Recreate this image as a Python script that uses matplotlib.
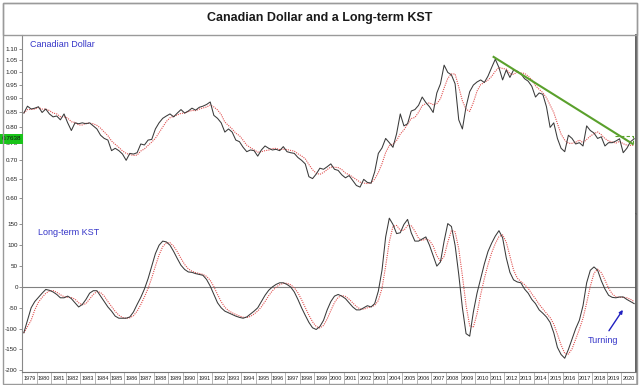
import matplotlib
matplotlib.use('Agg')
import matplotlib.pyplot as plt
from matplotlib.patches import Rectangle
from matplotlib.ticker import FixedLocator, FixedFormatter, NullFormatter, NullLocator
import numpy as np
import pandas as pd

# ---------------- data (quarterly, 1979 Q1 .. 2020 Q4) ----------------
start_year = 1979
cad = [
    0.848, 0.872, 0.862, 0.865,   # 1979
    0.870, 0.850, 0.862, 0.845,   # 1980
    0.835, 0.838, 0.825, 0.845,   # 1981
    0.815, 0.790, 0.815, 0.812,   # 1982
    0.815, 0.812, 0.815, 0.805,   # 1983
    0.795, 0.775, 0.765, 0.760,   # 1984
    0.728, 0.735, 0.728, 0.718,   # 1985
    0.700, 0.720, 0.718, 0.722,   # 1986
    0.748, 0.745, 0.760, 0.762,   # 1987
    0.795, 0.815, 0.830, 0.838,   # 1988
    0.845, 0.835, 0.848, 0.860,   # 1989
    0.848, 0.855, 0.865, 0.858,   # 1990
    0.868, 0.872, 0.878, 0.887,   # 1991
    0.840, 0.830, 0.815, 0.785,   # 1992
    0.795, 0.785, 0.760, 0.755,   # 1993
    0.738, 0.725, 0.730, 0.728,   # 1994
    0.712, 0.730, 0.742, 0.735,   # 1995
    0.730, 0.732, 0.728, 0.740,   # 1996
    0.725, 0.722, 0.720, 0.708,   # 1997
    0.700, 0.690, 0.655, 0.650,   # 1998
    0.662, 0.678, 0.675, 0.682,   # 1999
    0.690, 0.675, 0.672, 0.660,   # 2000
    0.652, 0.658, 0.645, 0.632,   # 2001
    0.628, 0.648, 0.640, 0.638,   # 2002
    0.668, 0.720, 0.736, 0.765,   # 2003
    0.752, 0.738, 0.780, 0.845,   # 2004
    0.805, 0.812, 0.855, 0.860,   # 2005
    0.875, 0.905, 0.885, 0.870,   # 2006
    0.850, 0.920, 0.955, 1.030,   # 2007
    1.000, 0.990, 0.955, 0.825,   # 2008
    0.795, 0.870, 0.925, 0.950,   # 2009
    0.962, 0.970, 0.960, 0.985,   # 2010
    1.020, 1.055, 1.020, 0.970,   # 2011
    1.010, 0.980, 1.010, 1.005,   # 2012
    0.995, 0.975, 0.965, 0.945,   # 2013
    0.905, 0.920, 0.915, 0.870,   # 2014
    0.800, 0.815, 0.765, 0.735,   # 2015
    0.725, 0.775, 0.765, 0.748,   # 2016
    0.752, 0.742, 0.805, 0.790,   # 2017
    0.782, 0.765, 0.770, 0.742,   # 2018
    0.752, 0.752, 0.757, 0.764,   # 2019
    0.722, 0.735, 0.755, 0.764,   # 2020
]
kst = [
    -110, -80, -50, -35,     # 1979
    -25, -15, -6, -8,        # 1980
    -12, -18, -26, -26,      # 1981
    -22, -28, -38, -48,      # 1982
    -42, -30, -15, -9,       # 1983
    -9, -22, -35, -48,       # 1984
    -58, -70, -75, -75,      # 1985
    -75, -72, -60, -42,      # 1986
    -25, -5, 20, 50,         # 1987
    80, 100, 110, 108,       # 1988
    100, 85, 68, 52,         # 1989
    42, 36, 35, 32,          # 1990
    30, 28, 18, 2,           # 1991
    -18, -38, -50, -58,      # 1992
    -62, -66, -70, -73,      # 1993
    -75, -72, -65, -58,      # 1994
    -50, -35, -20, -8,       # 1995
    0, 6, 10, 10,            # 1996
    6, 0, -12, -30,          # 1997
    -50, -68, -85, -98,      # 1998
    -102, -95, -80, -55,     # 1999
    -35, -22, -18, -22,      # 2000
    -28, -38, -48, -55,      # 2001
    -55, -50, -45, -48,      # 2002
    -40, -10, 40, 120,       # 2003
    165, 150, 128, 130,      # 2004
    150, 162, 130, 110,      # 2005
    110, 115, 120, 100,      # 2006
    75, 50, 60, 110,         # 2007
    152, 145, 100, 30,       # 2008
    -50, -112, -118, -60,    # 2009
    -15, 20, 55, 85,         # 2010
    105, 122, 135, 118,      # 2011
    70, 35, 17, 12,          # 2012
    10, -5, -15, -30,        # 2013
    -40, -55, -63, -72,      # 2014
    -85, -110, -145, -162,   # 2015
    -171, -150, -125, -100,  # 2016
    -80, -45, 10, 40,        # 2017
    48, 40, 15, -5,          # 2018
    -20, -25, -26, -24,      # 2019
    -24, -30, -35, -40,      # 2020
]
year_labels = list(range(1979, 2021))
cad_ticks = [1.10, 1.05, 1.00, 0.95, 0.90, 0.85, 0.80, 0.75, 0.70, 0.65, 0.60]
kst_ticks = [150, 100, 50, 0, -50, -100, -150, -200]
last_label = "0.7638"
last_value = 0.7638
trend_t = [2011.26, 2020.78]
trend_v = [1.065, 0.748]
box_t = [2019.55, 2020.80, 2020.80]
box_v = [0.772, 0.772, 0.752]
turn_tail = (2019.15, -105)
turn_head = (2020.1, -55)
turn_text = (2018.75, -128)

t = start_year + (np.arange(len(cad)) + 0.5) / 4.0
cad_ma = pd.Series(cad).rolling(4, min_periods=1).mean().values
kst_ma = pd.Series(kst).rolling(3, min_periods=1).mean().values

# ---------------- figure ----------------
W, H = 640, 385
fig = plt.figure(figsize=(W / 100, H / 100), dpi=100)
plt.rcParams['font.family'] = ['Liberation Sans', 'DejaVu Sans']

def fx(px):
    return px / W

def fy(py):
    return 1 - py / H

# outer border and title bar
fig.add_artist(Rectangle((fx(3), fy(384)), fx(634), 381 / H, transform=fig.transFigure,
                         fill=False, edgecolor='#9a9a9a', lw=1.0))
fig.add_artist(Rectangle((fx(3), fy(35)), fx(634), 32 / H, transform=fig.transFigure,
                         fill=False, edgecolor='#9a9a9a', lw=1.0))
fig.text(0.5, fy(18), "Canadian Dollar and a Long-term KST", ha='center', va='center',
         fontsize=9, fontweight='bold', color='#1a1a1a',
         family=['Liberation Sans Narrow', 'Liberation Sans', 'DejaVu Sans'])

left, right = 22, 636
top1, split, bot2 = 35, 214, 372
ax1 = fig.add_axes([fx(left), fy(split), fx(right - left), (split - top1) / H])
ax2 = fig.add_axes([fx(left), fy(bot2), fx(right - left), (bot2 - split) / H])

xmin, xmax = 1979.0, 2021.0
for ax in (ax1, ax2):
    ax.set_xlim(xmin, xmax)
    ax.set_facecolor('white')
    ax.spines['left'].set_color('#888888')
    ax.spines['left'].set_linewidth(0.8)
    ax.spines['right'].set_color('#555555')
    ax.spines['right'].set_linewidth(1.3)

# --- upper panel ---
ax1.set_yscale('log')
ax1.set_ylim(0.563, 1.164)
ax1.plot(t, cad_ma, color='#e05050', lw=0.8, ls=(0, (1, 1)))
ax1.plot(t, cad, color='#3a3a3a', lw=0.75)
ax1.plot(trend_t, trend_v, color='#5aa02c', lw=1.5)
ax1.plot(box_t, box_v, color='#5aa02c', lw=0.8, ls=(0, (3, 2)))
ax1.yaxis.set_major_locator(FixedLocator(cad_ticks))
ax1.yaxis.set_major_formatter(FixedFormatter(["%.2f" % v for v in cad_ticks]))
ax1.yaxis.set_minor_locator(NullLocator())
ax1.yaxis.set_minor_formatter(NullFormatter())
ax1.tick_params(axis='y', labelsize=4.5, length=2, width=0.5, color='#666666', pad=1,
                labelcolor='#222222')
ax1.set_xticks([])
ax1.spines['bottom'].set_visible(False)
ax1.spines['top'].set_visible(False)
ax1.text(0.013, 0.945, "Canadian Dollar", transform=ax1.transAxes, color='#3535c8',
         fontsize=6.5, va='center', ha='left')
ax1.text(-0.002, last_value, last_label, transform=ax1.get_yaxis_transform(),
         ha='right', va='center', fontsize=4.6, color='#101010', zorder=10, clip_on=False,
         bbox=dict(facecolor='#19c419', edgecolor='none', pad=1.6))

# --- lower panel ---
ax2.set_ylim(-204, 175)
ax2.axhline(0, color='#808080', lw=0.8)
ax2.plot(t, kst_ma, color='#e05050', lw=0.8, ls=(0, (1, 1)))
ax2.plot(t, kst, color='#3a3a3a', lw=0.75)
ax2.yaxis.set_major_locator(FixedLocator(kst_ticks))
ax2.yaxis.set_major_formatter(FixedFormatter([str(v) for v in kst_ticks]))
ax2.tick_params(axis='y', labelsize=4.5, length=2, width=0.5, color='#666666', pad=1,
                labelcolor='#222222')
ax2.spines['top'].set_visible(False)
ax2.spines['bottom'].set_color('#777777')
ax2.spines['bottom'].set_linewidth(0.8)
ax2.set_xticks([y + 0.5 for y in year_labels])
ax2.set_xticklabels([str(y) for y in year_labels])
ax2.set_xticks([float(y) for y in year_labels] + [2021.0], minor=True)
ax2.tick_params(axis='x', which='major', length=0, labelsize=4.0, pad=3.2,
                labelcolor='#222222')
ax2.tick_params(axis='x', which='minor', length=10, width=0.5, color='#999999',
                direction='out')
ax2.text(0.026, 0.886, "Long-term KST", transform=ax2.transAxes, color='#3535c8',
         fontsize=6.5, va='center', ha='left')
ax2.annotate("", xy=turn_head, xytext=turn_tail,
             arrowprops=dict(arrowstyle='-|>', color='#2020c0', lw=1.0,
                             mutation_scale=5, shrinkA=0, shrinkB=0))
ax2.text(turn_text[0], turn_text[1], "Turning", color='#3535c8', fontsize=6.5,
         ha='center', va='center')

fig.savefig('out.png', dpi=100)
